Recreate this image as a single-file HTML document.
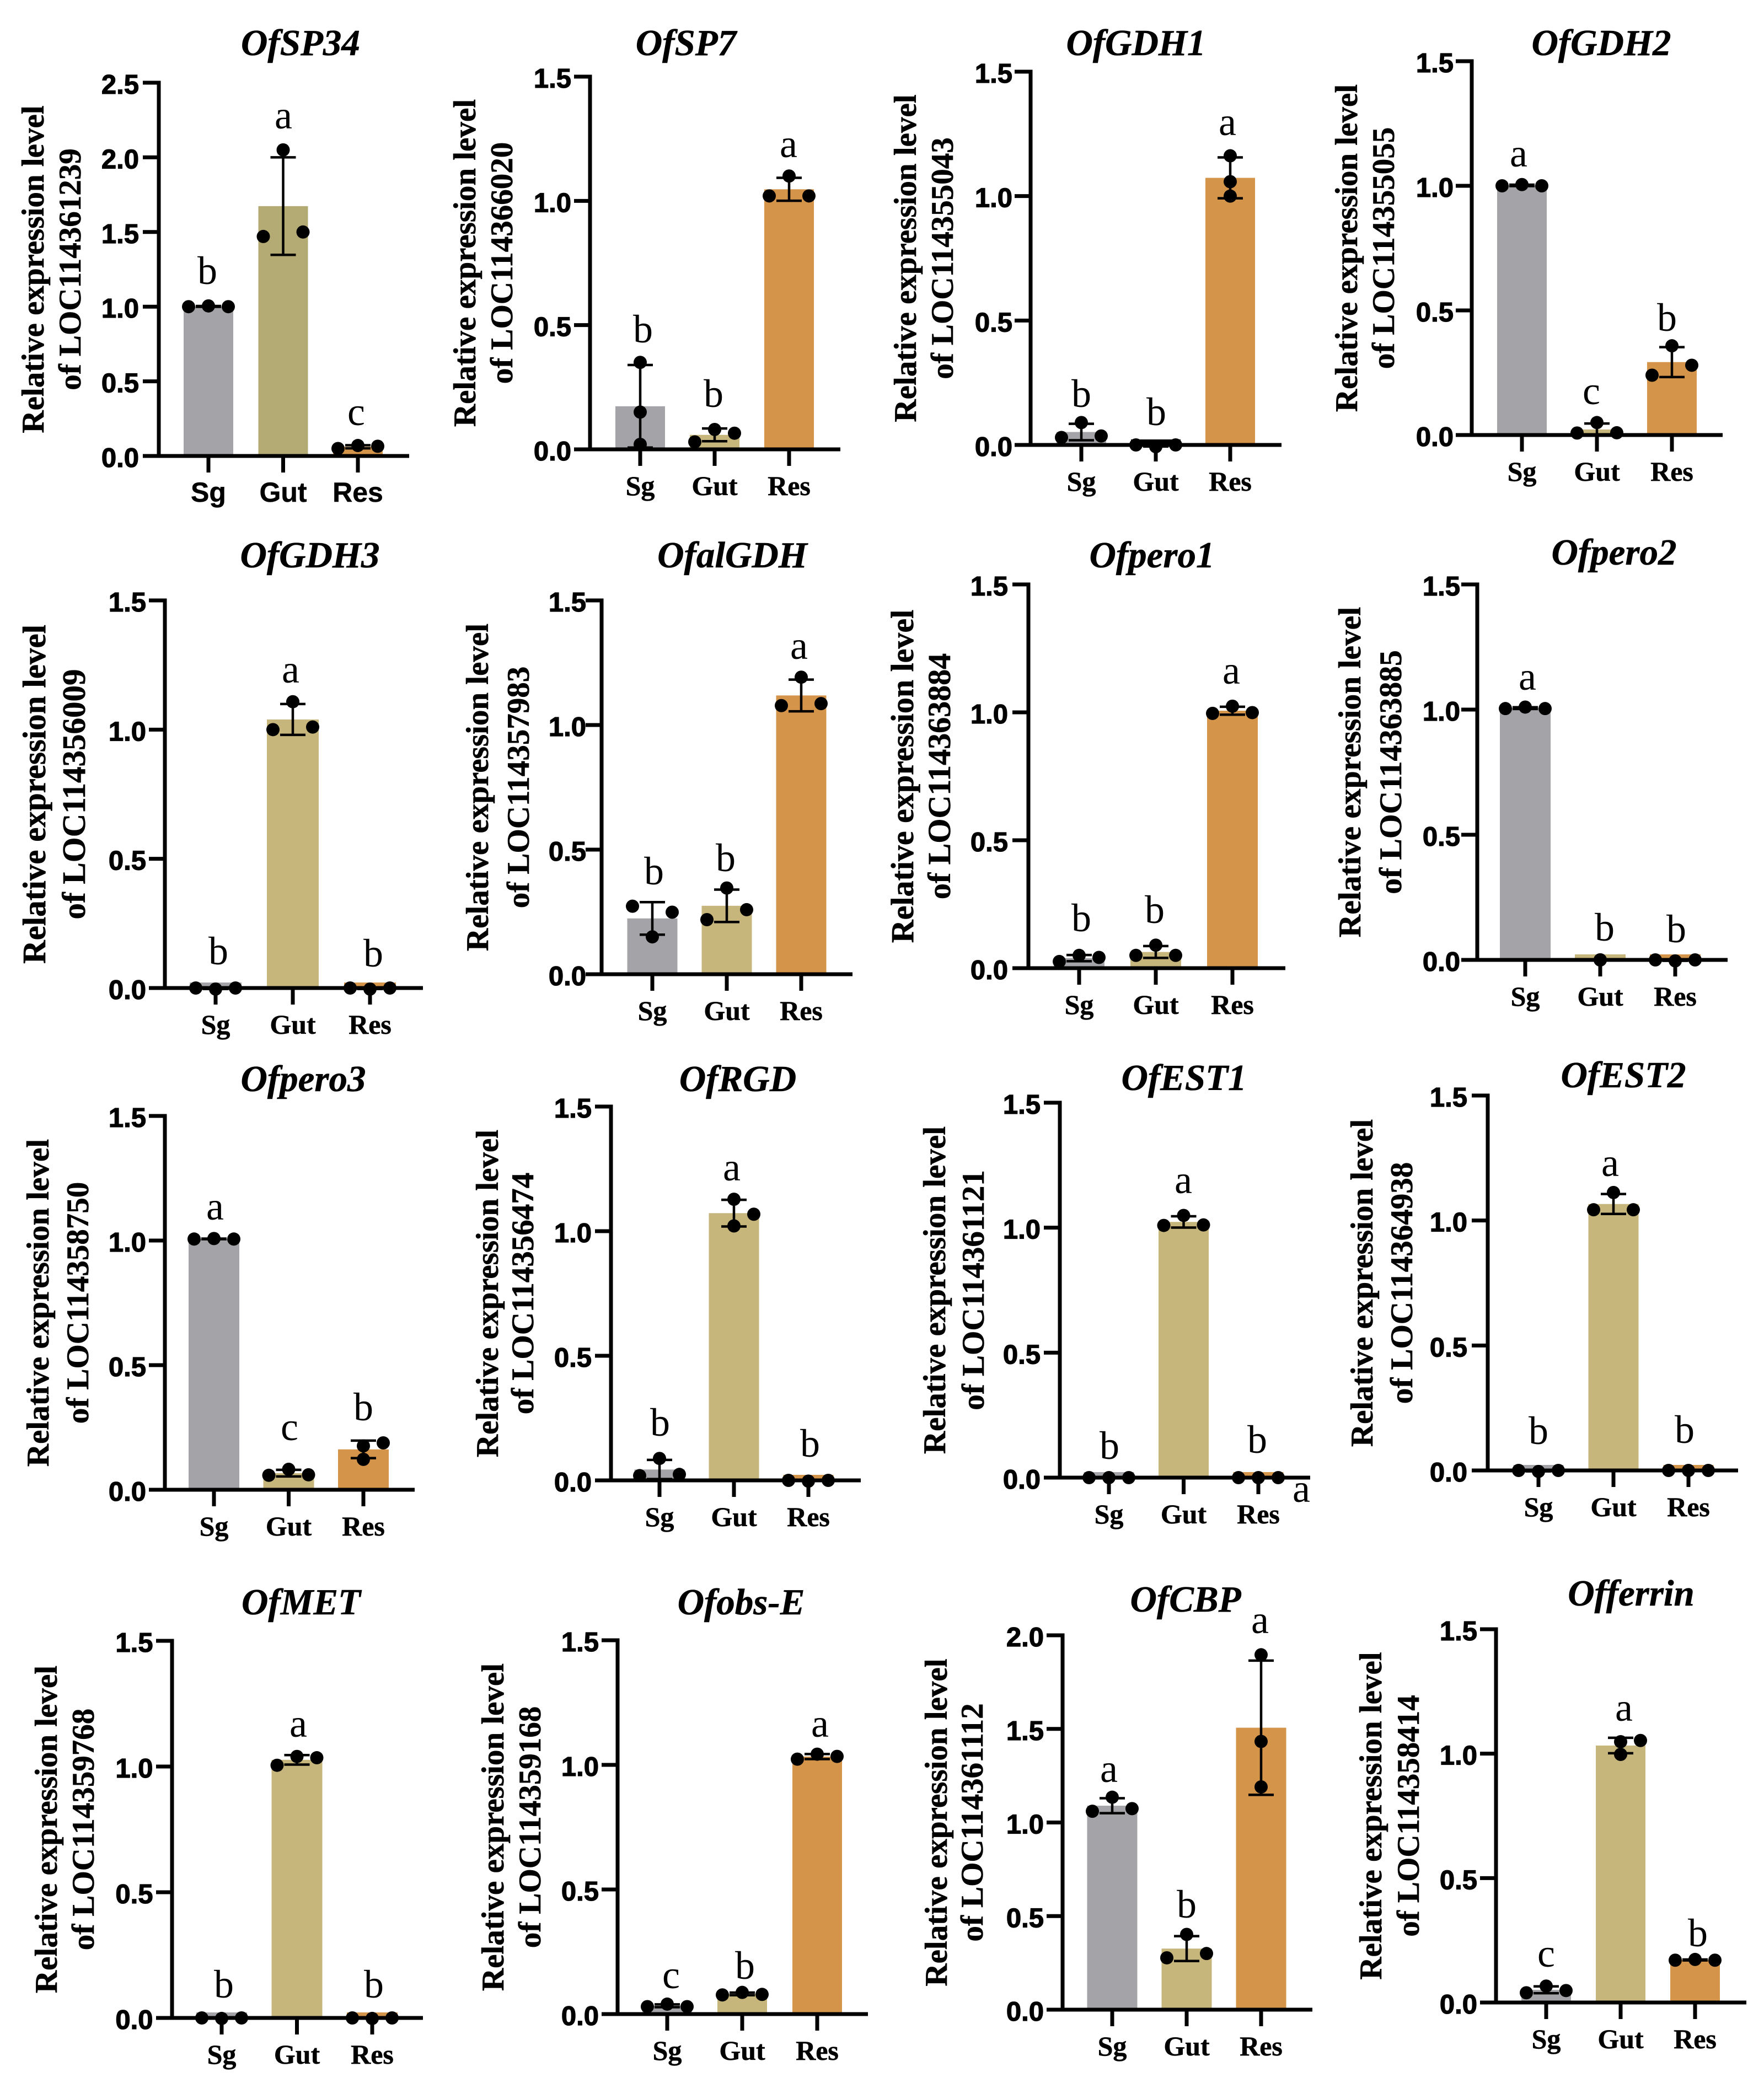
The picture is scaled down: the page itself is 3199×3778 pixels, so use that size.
<!DOCTYPE html>
<html lang="en">
<head>
<meta charset="utf-8">
<title>Relative expression levels of 16 genes in Sg, Gut and Res</title>
<style>
html,body{margin:0;padding:0;background:#fff;}
svg{display:block;}
text{fill:#000;stroke:#000;}
.title{font:italic bold 67px "Liberation Serif",serif;text-anchor:middle;stroke-width:.6;}
.ylab{font-family:"Liberation Serif",serif;font-weight:bold;text-anchor:middle;stroke-width:.6;}
.ytick{font:bold 49px "Liberation Sans",sans-serif;text-anchor:end;stroke-width:1.2;}
.xtick{font:bold 50px "Liberation Serif",serif;text-anchor:middle;stroke-width:.5;}
.xtick.sans{font:bold 50px "Liberation Sans",sans-serif;}
.sig{font:72px "Liberation Serif",serif;text-anchor:middle;stroke-width:0;}
</style>
</head>
<body>
<svg id="figure" xmlns="http://www.w3.org/2000/svg" width="3199" height="3778" viewBox="0 0 3199 3778"></svg>
<script>
// ---------- DATA ----------
const categories = ['Sg', 'Gut', 'Res'];
const geneTitles = ['OfSP34','OfSP7','OfGDH1','OfGDH2','OfGDH3','OfalGDH','Ofpero1','Ofpero2','Ofpero3','OfRGD','OfEST1','OfEST2','OfMET','Ofobs-E','OfCBP','Offerrin'];
const locusLabels = ['LOC114361239','LOC114366020','LOC114355043','LOC114355055','LOC114356009','LOC114357983','LOC114363884','LOC114363885','LOC114358750','LOC114356474','LOC114361121','LOC114364938','LOC114359768','LOC114359168','LOC114361112','LOC114358414'];
const yMaxes = [2.5,1.5,1.5,1.5,1.5,1.5,1.5,1.5,1.5,1.5,1.5,1.5,1.5,1.5,2.0,1.5];
const yTickStep = 0.5;
const replicatesSg = [
 [1.0,1.005,1.0],[0.02,0.15,0.35],[0.03,0.09,0.036],[1.0,1.005,1.0],
 [0.0,-0.004,0.0],[0.273,0.15,0.249],[0.026,0.05,0.042],[1.004,1.01,1.004],
 [1.006,1.008,1.006],[0.019,0.088,0.024],[0.0,0.0,0.0],[0.0,-0.004,0.0],
 [0.0,-0.002,0.0],[0.03,0.04,0.03],[1.06,1.135,1.074],[0.039,0.066,0.048]
];
const replicatesGut = [
 [1.47,2.05,1.5],[0.03,0.08,0.065],[0.0,-0.007,0.0],[0.008,0.05,0.009],
 [1.0,1.108,1.01],[0.219,0.346,0.259],[0.05,0.09,0.05],[0.0,0.0,0.0],
 [0.058,0.082,0.06],[1.128,1.021,1.068],[1.009,1.049,1.011],[1.043,1.112,1.043],
 [1.005,1.04,1.035],[0.077,0.087,0.079],[0.277,0.402,0.30],[1.048,0.997,1.053]
];
const replicatesRes = [
 [0.05,0.07,0.065],[1.02,1.1,1.02],[1.162,1.058,1.0],[0.24,0.358,0.28],
 [0.0,-0.004,0.0],[1.078,1.192,1.086],[0.996,1.024,0.999],[0.0,-0.004,0.0],
 [0.176,0.122,0.188],[0.0,-0.003,0.0],[0.0,0.0,0.0],[0.0,0.0,0.0],
 [0.0,-0.002,0.0],[1.023,1.043,1.034],[1.896,1.433,1.19],[0.17,0.173,0.17]
];
const sigLettersSg = ['b','b','b','a','b','b','b','a','a','b','b','b','b','c','a','c'];
const sigLettersGut = ['a','b','b','c','a','b','b','b','c','a','a','a','a','b','b','a'];
const sigLettersRes = ['c','a','a','b','b','a','a','b','b','b','b','b','b','a','a','b'];

// ---------- LAYOUT (pixels, not data) ----------
// yAxisX, yTopPx, yZeroPx, xAxisEnd, firstCenter, centerStep, titleX, titleBase, ylabX1, ylabX2, ylabSize, tickGap, barWidth
const frames = [
 [288,150,827,742,378,135.5,545,100,79,146,57,38,90],
 [1070,139,815,1524,1161,135,1244,100,862,929,57,36,90],
 [1869,130,807,2324,1961,135,2060,100,1661,1728,57,35,90],
 [2669,111,789,3124,2760,136,2904,100,2461,2528,57,35,90],
 [299,1089,1792,767,391,140,562,1029,82,154,59,36,94],
 [1091,1089,1767,1546,1183,135,1328,1029,885,959,57,30,91],
 [1865,1060,1756,2331,1957,139,2089,1029,1656,1723,58,39,92],
 [2679,1060,1741,3133,2766,136,2927,1024,2467,2541,57.5,33,92],
 [299,2024,2702,752,388,135.5,550,1979,88,160,57,36,92],
 [1108,2007,2685,1561,1196,135,1338,1979,903,967,57,37,91],
 [1922,2000,2680,2376,2011,135.5,2147,1977,1714,1784,57,37,91],
 [2698,1987,2667,3152,2790,136,2944,1972,2489,2561,57,39,91],
 [312,2976,3660,767,402,136.5,546,2928,103,170,57,36.5,92],
 [1120,2975,3653,1574,1210,136,1344,2928,913,980,57,36,90],
 [1927,2966,3645,2380,2017,135,2150,2923,1717,1782,57,36,91],
 [2713,2955,3632,3167,2804,135,2958,2912,2505,2573,57,36,90]
];
// baseline placement of the significance letters: [x,y] for Sg, Gut, Res
const sigPlacement = [
 [[376,515],[514,233],[646,771]],[[1166,621],[1294,738],[1430,285]],[[1961,738],[2097,771],[2226,245]],[[2754,302],[2886,733],[3023,600]],
 [[396,1749],[527,1238],[677,1753]],[[1186,1604],[1316,1580],[1449,1195]],[[1961,1689],[2094,1674],[2233,1240]],[[2770,1251],[2910,1706],[3040,1709]],
 [[390,2212],[525,2612],[659,2576]],[[1197,2604],[1327,2141],[1469,2642]],[[2012,2646],[2146,2164],[2280,2635]],[[2790,2619],[2920,2133],[3055,2617]],
 [[406,3623],[541,3150],[678,3623]],[[1217,3606],[1351,3589],[1487,3150]],[[2011,3232],[2152,3478],[2285,2962]],[[2804,3567],[2945,3121],[3079,3530]]
];
// dot column per replicate: -1 left, 0 centre, 1 right
const dotColumnsSg = [[-1,0,1],[0,0,0],[-1,0,1],[-1,0,1],[-1,0,1],[-1,0,1],[-1,0,1],[-1,0,1],[-1,0,1],[-1,0,1],[-1,0,1],[-1,0,1],[-1,0,1],[-1,0,1],[-1,0,1],[-1,0,1]];
const dotColumnsGut = [[-1,0,1],[-1,0,1],[-1,0,1],[-1,0,1],[-1,0,1],[-1,0,1],[-1,0,1],[0,0,0],[-1,0,1],[0,0,1],[-1,0,1],[-1,0,1],[-1,0,1],[-1,0,1],[-1,0,1],[0,0,1]];
const dotColumnsRes = [[-1,0,1],[-1,0,1],[0,0,0],[-1,0,1],[-1,0,1],[-1,0,1],[-1,0,1],[-1,0,1],[0,0,1],[-1,0,1],[-1,0,1],[-1,0,1],[-1,0,1],[-1,0,1],[0,0,0],[-1,0,1]];
const barColors = ['#a4a3a7', '#c6b67b', '#d4954a'];
const firstPanelGutColor = '#b4aa74';

// ---------- DRAWING ----------
const SVG_NS = 'http://www.w3.org/2000/svg';
const root = document.getElementById('figure');
const DOT_R = 12, DOT_SPREAD = 36, CAP = 23, AXIS_W = 7, TICK = 29, MIN_BAR = 10;

function make(parent, tag, attrs, content) {
  const el = document.createElementNS(SVG_NS, tag);
  for (const k in attrs) el.setAttribute(k, attrs[k]);
  if (content !== undefined) el.textContent = content;
  parent.appendChild(el);
  return el;
}
function mean(a) { return a.reduce((s, v) => s + v, 0) / a.length; }
function sd(a) { const m = mean(a); return Math.sqrt(a.reduce((s, v) => s + (v - m) * (v - m), 0) / (a.length - 1)); }

geneTitles.forEach((gene, p) => {
  const [xa, yTop, y0, xEnd, c0, step, tx, tb, yl1x, yl2x, ylSize, tickGap, barW] = frames[p];
  const yScale = v => y0 - (v / yMaxes[p]) * (y0 - yTop);
  const xScale = i => c0 + i * step;

  const g = make(root, 'g', {});
  
  

  const title = make(g, 'text', {class: 'title', x: tx, y: tb}, gene);
  
  

  const midY = (yTop + y0) / 2;
  const yl1 = make(g, 'text', {class: 'ylab', 'font-size': ylSize, transform: 'translate(' + yl1x + ' ' + midY + ') rotate(-90)'}, 'Relative expression level');
  
  
  const yl2 = make(g, 'text', {class: 'ylab', 'font-size': ylSize, transform: 'translate(' + yl2x + ' ' + midY + ') rotate(-90)'}, 'of ' + locusLabels[p]);
  
  

  const groups = [replicatesSg[p], replicatesGut[p], replicatesRes[p]];
  const columns = [dotColumnsSg[p], dotColumnsGut[p], dotColumnsRes[p]];
  const letters = [sigLettersSg[p], sigLettersGut[p], sigLettersRes[p]];

  // bars
  categories.forEach((cat, i) => {
    const m = mean(groups[i]);
    const top = Math.min(yScale(m), y0 - MIN_BAR);
    const color = (p === 0 && i === 1) ? firstPanelGutColor : barColors[i];
    const bar = make(g, 'rect', {x: xScale(i) - barW / 2, y: top, width: barW, height: y0 - top, fill: color});
    
    
    if (p === 2 && i === 1) {
      const rule = make(g, 'rect', {x: xScale(i) - barW / 2, y: top, width: barW, height: 7, fill: '#000'});
      
      
    }
  });

  // axes
  const yAxis = make(g, 'line', {x1: xa, x2: xa, y1: yTop - AXIS_W / 2, y2: y0 + AXIS_W / 2, stroke: '#000', 'stroke-width': AXIS_W});
  
  
  const xAxis = make(g, 'line', {x1: xa - TICK, x2: xEnd, y1: y0, y2: y0, stroke: '#000', 'stroke-width': AXIS_W});
  
  

  const tickCount = Math.round(yMaxes[p] / yTickStep);
  for (let t = 0; t <= tickCount; t++) {
    const v = t * yTickStep;
    const ty = yScale(v);
    const tick = make(g, 'line', {x1: xa - TICK, x2: xa, y1: ty, y2: ty, stroke: '#000', 'stroke-width': AXIS_W});
    
    
    const lab = make(g, 'text', {class: 'ytick', x: xa - tickGap + 2, y: ty + 20}, v.toFixed(1));
    
    
  }

  categories.forEach((cat, i) => {
    const cx = xScale(i);
    const tick = make(g, 'line', {x1: cx, x2: cx, y1: y0, y2: y0 + 30, stroke: '#000', 'stroke-width': AXIS_W});
    
    
    const lab = make(g, 'text', {class: p === 0 ? 'xtick sans' : 'xtick', x: cx, y: y0 + 83}, cat);
    
    

    // error bar: mean +/- SD of the replicates
    const m = mean(groups[i]), s = sd(groups[i]);
    const hi = yScale(m + s), lo = yScale(m - s);
    const eb = make(g, 'path', {d: 'M' + (cx - CAP) + ' ' + hi + 'H' + (cx + CAP) + 'M' + cx + ' ' + hi + 'V' + lo + 'M' + (cx - CAP) + ' ' + lo + 'H' + (cx + CAP), fill: 'none', stroke: '#000', 'stroke-width': 4.5});
    
    

    // replicate dots
    groups[i].forEach((val, r) => {
      const dot = make(g, 'circle', {cx: cx + columns[i][r] * DOT_SPREAD, cy: yScale(val), r: DOT_R, fill: '#000'});
      
      
    });

    const place = sigPlacement[p][i];
    const sig = make(g, 'text', {class: 'sig', x: place[0], y: place[1]}, letters[i]);
    
    
  });
});

// stray letter printed beside the OfEST1 axis in the source figure
const strayLetter = make(root, 'text', {class: 'sig', x: 2360, y: 2724}, 'a');


</script>
</body>
</html>
